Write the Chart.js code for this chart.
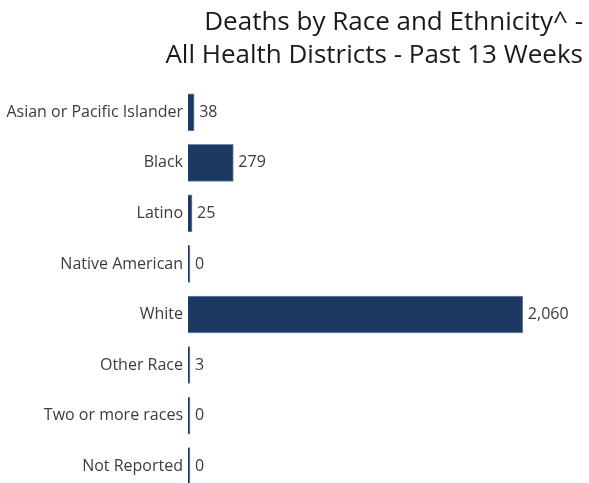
<!DOCTYPE html>
<html>
<head>
<meta charset="utf-8">
<script src="https://cdn.jsdelivr.net/npm/chart.js@4"></script>
<style>
  html, body { margin: 0; padding: 0; background: #fff; overflow: hidden; }
  canvas { display: block; }
</style>
</head>
<body>
<canvas id="chart" width="589" height="506"></canvas>
<script>
const categories = ["Asian or Pacific Islander", "Black", "Latino", "Native American", "White", "Other Race", "Two or more races", "Not Reported"];
const deaths = [38, 279, 25, 0, 2060, 3, 0, 0];
const titleLines = ["Deaths by Race and Ethnicity^ -", "All Health Districts - Past 13 Weeks"];

const barColor = "#1b3963";
const textColor = "#3c3c3c";

// value labels to the right of each bar
const valueLabels = {
  id: "valueLabels",
  afterDatasetsDraw(chart) {
    const ctx = chart.ctx;
    const meta = chart.getDatasetMeta(0);
    ctx.save();
    ctx.font = "16px 'Open Sans', sans-serif";
    ctx.fillStyle = textColor;
    ctx.textAlign = "left";
    ctx.textBaseline = "middle";
    meta.data.forEach((bar, i) => {
      ctx.fillText(deaths[i].toLocaleString("en-US"), Math.max(bar.x, bar.base) + 5, bar.y);
    });
    ctx.restore();
  }
};

const ctx = document.getElementById("chart").getContext("2d");
new Chart(ctx, {
  type: "bar",
  data: {
    labels: categories,
    datasets: [{
      data: deaths,
      backgroundColor: barColor,
      borderColor: "#6f87ab",
      borderWidth: 1,
      borderSkipped: "start",
      minBarLength: 2,
      barThickness: 37
    }]
  },
  options: {
    indexAxis: "y",
    responsive: false,
    animation: false,
    layout: { padding: { left: 0, right: 6, top: 0, bottom: 0 } },
    scales: {
      x: {
        display: false,
        min: 0,
        max: 2430
      },
      y: {
        afterFit: (s) => { s.width = 188; },
        grid: { display: false, drawTicks: false },
        border: { display: false },
        ticks: {
          color: textColor,
          padding: 5,
          font: { family: "'Open Sans', sans-serif", size: 16 }
        }
      }
    },
    plugins: {
      legend: { display: false },
      tooltip: { enabled: false },
      title: {
        display: true,
        text: titleLines,
        align: "end",
        color: "#1a1a1a",
        font: { family: "'Open Sans', sans-serif", size: 26, weight: "normal", lineHeight: 1.27 },
        padding: { top: 6, bottom: 15 }
      }
    }
  },
  plugins: [valueLabels]
});
</script>
</body>
</html>
